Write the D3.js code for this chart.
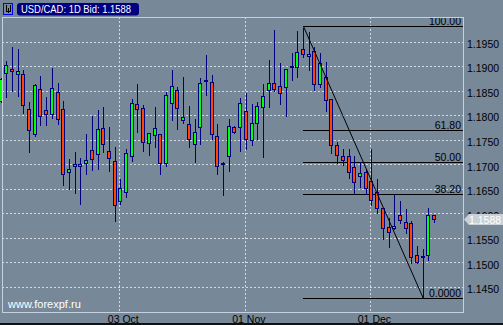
<!DOCTYPE html>
<html>
<head>
<meta charset="utf-8">
<script src="https://cdn.jsdelivr.net/npm/d3@7"></script>
<style>
  html, body { margin: 0; padding: 0; background: #778899; }
  svg { display: block; font-family: 'Liberation Sans', Arial, sans-serif; }
</style>
</head>
<body>
<div class="chart-container"></div>
<script>
// USD/CAD daily candles
const open = [
  1.1829, 1.1885, 1.1894, 1.1884, 1.1883, 1.1812, 1.1761, 1.1853, 1.1810, 1.1802,
  1.1847, 1.1812, 1.1684, 1.1696, 1.1696, 1.1702, 1.1730, 1.1720, 1.1773, 1.1726,
  1.1707, 1.1625, 1.1643, 1.1716, 1.1822, 1.1814, 1.1743, 1.1759, 1.1761, 1.1702,
  1.1824, 1.1851, 1.1790, 1.1781, 1.1742, 1.1775, 1.1871, 1.1867, 1.1757, 1.1703,
  1.1716, 1.1775, 1.1775, 1.1808, 1.1749, 1.1785, 1.1816, 1.1851, 1.1865, 1.1859,
  1.1857, 1.1901, 1.1899, 1.1934, 1.1920, 1.1930, 1.1863, 1.1878, 1.1832, 1.1739,
  1.1716, 1.1716, 1.1694, 1.1677, 1.1684, 1.1665, 1.1643, 1.1610, 1.1573, 1.1570,
  1.1596, 1.1582, 1.1581, 1.1516, 1.1514, 1.1515, 1.1596
];
const high = [
  1.1876, 1.1910, 1.1939, 1.1935, 1.1892, 1.1826, 1.1863, 1.1880, 1.1837, 1.1896,
  1.1865, 1.1829, 1.1711, 1.1725, 1.1713, 1.1762, 1.1799, 1.1810, 1.1817, 1.1776,
  1.1735, 1.1670, 1.1732, 1.1833, 1.1863, 1.1821, 1.1764, 1.1817, 1.1762, 1.1847,
  1.1891, 1.1857, 1.1878, 1.1819, 1.1792, 1.1875, 1.1923, 1.1882, 1.1781, 1.1705,
  1.1792, 1.1777, 1.1834, 1.1845, 1.1822, 1.1826, 1.1863, 1.1912, 1.1973, 1.1906,
  1.1895, 1.1926, 1.1971, 1.1978, 1.1969, 1.1939, 1.1926, 1.1908, 1.1833, 1.1745,
  1.1732, 1.1732, 1.1716, 1.1704, 1.1690, 1.1732, 1.1669, 1.1611, 1.1590, 1.1637,
  1.1625, 1.1608, 1.1585, 1.1534, 1.1528, 1.1610, 1.1597
];
const low = [
  1.1827, 1.1836, 1.1850, 1.1838, 1.1805, 1.1724, 1.1758, 1.1780, 1.1779, 1.1795,
  1.1781, 1.1658, 1.1650, 1.1642, 1.1620, 1.1681, 1.1689, 1.1691, 1.1724, 1.1687,
  1.1585, 1.1619, 1.1634, 1.1707, 1.1766, 1.1726, 1.1719, 1.1736, 1.1681, 1.1697,
  1.1790, 1.1772, 1.1785, 1.1736, 1.1705, 1.1742, 1.1841, 1.1751, 1.1681, 1.1638,
  1.1687, 1.1763, 1.1726, 1.1732, 1.1740, 1.1751, 1.1715, 1.1817, 1.1849, 1.1822,
  1.1799, 1.1872, 1.1878, 1.1919, 1.1892, 1.1851, 1.1858, 1.1809, 1.1722, 1.1702,
  1.1698, 1.1671, 1.1642, 1.1654, 1.1639, 1.1617, 1.1600, 1.1547, 1.1532, 1.1568,
  1.1580, 1.1559, 1.1498, 1.1499, 1.1427, 1.1504, 1.1583
];
const close = [
  1.1873, 1.1902, 1.1889, 1.1889, 1.1820, 1.1769, 1.1861, 1.1798, 1.1802, 1.1855,
  1.1792, 1.1680, 1.1690, 1.1700, 1.1700, 1.1708, 1.1710, 1.1771, 1.1741, 1.1712,
  1.1618, 1.1651, 1.1722, 1.1824, 1.1812, 1.1746, 1.1763, 1.1773, 1.1702, 1.1842,
  1.1859, 1.1814, 1.1796, 1.1751, 1.1765, 1.1865, 1.1871, 1.1761, 1.1696, 1.1703,
  1.1777, 1.1765, 1.1824, 1.1751, 1.1783, 1.1818, 1.1838, 1.1865, 1.1853, 1.1845,
  1.1893, 1.1901, 1.1928, 1.1925, 1.1925, 1.1863, 1.1906, 1.1830, 1.1739, 1.1718,
  1.1708, 1.1684, 1.1663, 1.1682, 1.1651, 1.1627, 1.1610, 1.1570, 1.1563, 1.1574,
  1.1587, 1.1570, 1.1512, 1.1500, 1.1514, 1.1596, 1.1588
];

const priceTicks = [1.1450, 1.1500, 1.1550, 1.1600, 1.1650, 1.1700, 1.1750, 1.1800, 1.1850, 1.1900, 1.1950];
const dateTickIndex = [21, 43, 65];
const dateTickLabels = ['03 Oct', '01 Nov', '01 Dec'];

// fibonacci retracement anchors (bar index, price)
const fibAnchor = [53, 74];
const fibPrice = [1.1981, 1.1427];
const fibLevels = [1, 0.618, 0.5, 0.382, 0];
const fibLabels = ['100.00', '61.80', '50.00', '38.20', '0.0000'];

const lastBid = 1.1588;
const title = 'USD/CAD: 1D Bid: 1.1588';
const watermark = 'www.forexpf.ru';

function drawChart(){
    const svg_width = 503;
    const svg_height = 325;
    const plot = {left: 2, top: 17, right: 463, bottom: 312};

    const bars = open.map((o, i) => ({i: i, o: o, h: high[i], l: low[i], c: close[i]}));

    const svg = d3.select('.chart-container')
                  .append('svg')
                  .attr('width', svg_width).attr('height', svg_height);

    svg.append('rect').attr('width', svg_width).attr('height', svg_height).attr('fill', '#778899');

    const xScale = d3.scaleLinear().domain([0, bars.length - 1]).range([1, 434.7]);
    const yScale = d3.scaleLinear().domain([1.145, 1.195]).range([287, 41.5]);

    svg.append('clipPath').attr('id', 'plot-clip')
       .append('rect')
       .attr('x', 0).attr('y', plot.top)
       .attr('width', plot.right - 0).attr('height', plot.bottom - plot.top);

    const g = svg.append('g').attr('clip-path', 'url(#plot-clip)');

    // dotted grid
    const grid = g.append('g').attr('class', 'grid')
                  .attr('stroke', '#d4dbe2').attr('stroke-width', 1)
                  .attr('stroke-dasharray', '2,2').attr('shape-rendering', 'crispEdges');
    grid.selectAll('.hgrid').data(priceTicks).enter()
        .append('line').attr('class', 'hgrid')
        .attr('x1', plot.left).attr('x2', plot.right)
        .attr('y1', d => Math.round(yScale(d)) + 0.5)
        .attr('y2', d => Math.round(yScale(d)) + 0.5);
    grid.selectAll('.vgrid').data(dateTickIndex).enter()
        .append('line').attr('class', 'vgrid')
        .attr('y1', plot.top).attr('y2', plot.bottom)
        .attr('x1', d => Math.floor(xScale(d)) - 0.5)
        .attr('x2', d => Math.floor(xScale(d)) - 0.5);

    // fibonacci lines
    const fibX0 = xScale(fibAnchor[0]);
    const fibY = lv => yScale(fibPrice[1] + lv * (fibPrice[0] - fibPrice[1]));
    const fib = g.append('g').attr('class', 'fib');
    fib.selectAll('line').data(fibLevels).enter()
       .append('line')
       .attr('x1', fibX0).attr('x2', plot.right)
       .attr('y1', d => Math.round(fibY(d)) + 0.5)
       .attr('y2', d => Math.round(fibY(d)) + 0.5)
       .attr('stroke', '#000').attr('stroke-width', 1)
       .attr('shape-rendering', 'crispEdges');
    fib.selectAll('text').data(fibLevels).enter()
       .append('text')
       .attr('x', plot.right - 2)
       .attr('y', d => Math.round(fibY(d)) - 1.5)
       .attr('text-anchor', 'end')
       .style('font-size', '10.5px').style('fill', '#000')
       .text((d, i) => fibLabels[i]);

    // candles
    const candle = g.selectAll('.candle').data(bars).enter()
                    .append('g').attr('class', 'candle');
    const col = d => Math.floor(xScale(d.i));
    candle.append('line')
          .attr('x1', d => col(d) + 0.5).attr('x2', d => col(d) + 0.5)
          .attr('y1', d => Math.round(yScale(d.h)))
          .attr('y2', d => Math.round(yScale(d.l)) + 1)
          .attr('stroke', '#000080').attr('stroke-width', 1)
          .attr('shape-rendering', 'crispEdges');
    candle.append('rect')
          .attr('x', d => col(d) - 1.5)
          .attr('width', 3)
          .attr('y', d => Math.round(yScale(Math.max(d.o, d.c))) + 0.5)
          .attr('height', d => Math.max(1, Math.round(yScale(Math.min(d.o, d.c))) - Math.round(yScale(Math.max(d.o, d.c)))))
          .attr('fill', d => d.c >= d.o ? '#00ff00' : '#ff4500')
          .attr('stroke', '#000080').attr('stroke-width', 1)
          .attr('shape-rendering', 'crispEdges');

    // trend line of the retracement
    g.append('line')
     .attr('x1', fibX0).attr('y1', yScale(fibPrice[0]))
     .attr('x2', xScale(fibAnchor[1])).attr('y2', yScale(fibPrice[1]))
     .attr('stroke', '#000').attr('stroke-width', 1);

    // frame
    svg.append('rect')
       .attr('x', plot.left + 0.5).attr('y', plot.top + 0.5)
       .attr('width', plot.right - plot.left).attr('height', plot.bottom - plot.top)
       .attr('fill', 'none').attr('stroke', '#c4d2e0').attr('stroke-width', 1)
       .attr('shape-rendering', 'crispEdges');

    // right price axis
    const yAxis = d3.axisRight(yScale)
                    .tickValues(priceTicks)
                    .tickFormat(d3.format('.4f'))
                    .tickSize(0).tickPadding(3);
    const yAxisDraw = svg.append('g').attr('class', 'y axis')
                         .attr('transform', `translate(${plot.right + 1},0)`)
                         .call(yAxis);
    yAxisDraw.select('.domain').remove();
    yAxisDraw.selectAll('text')
             .attr('dy', '0.55em')
             .style('font-size', '10.5px').style('fill', '#000')
             .style('font-family', "'Liberation Sans', Arial, sans-serif");

    // bottom date labels
    svg.append('g').attr('class', 'x labels')
       .selectAll('text').data(dateTickIndex).enter()
       .append('text')
       .attr('x', d => xScale(d) + 2.5)
       .attr('y', 322.5)
       .attr('text-anchor', 'middle')
       .style('font-size', '10.5px').style('fill', '#000')
       .text((d, i) => dateTickLabels[i]);

    // current bid marker, sits over the 1.1600 label as in the original
    const by = Math.round(yScale(lastBid)) + 0.5;
    svg.append('path')
       .attr('d', `M${plot.right + 1},${by} L${plot.right + 6},${by - 5.5} L${svg_width},${by - 5.5} L${svg_width},${by + 5.5} L${plot.right + 6},${by + 5.5} Z`)
       .attr('fill', '#c9d0d7');
    svg.append('text')
       .attr('x', plot.right + 6).attr('y', by + 4)
       .style('font-size', '10.5px').style('fill', '#fff')
       .text(d3.format('.4f')(lastBid));

    // watermark
    svg.append('text')
       .attr('x', 8).attr('y', 308)
       .style('font-size', '11px').style('fill', '#fff')
       .text(watermark);

    // header: icon + title box
    svg.append('rect')
       .attr('x', 3.5).attr('y', 3.5).attr('width', 9).attr('height', 11)
       .attr('fill', 'none').attr('stroke', '#0000ff').attr('stroke-width', 1)
       .attr('shape-rendering', 'crispEdges');
    svg.append('path')
       .attr('d', 'M6.5,5 V11.5 H10.5 V5 M8.5,8 V13')
       .attr('fill', 'none').attr('stroke', '#000').attr('stroke-width', 1)
       .attr('shape-rendering', 'crispEdges');
    svg.append('rect')
       .attr('x', 17).attr('y', 3).attr('width', 122).attr('height', 12.5).attr('rx', 3)
       .attr('fill', '#000080');
    svg.append('text')
       .attr('x', 21).attr('y', 13)
       .attr('textLength', 110).attr('lengthAdjust', 'spacingAndGlyphs')
       .style('font-size', '11px').style('fill', '#fff')
       .text(title);

    // dark bottom edge
    svg.append('rect').attr('x', 0).attr('y', 323).attr('width', svg_width).attr('height', 2).attr('fill', '#111');
}

drawChart();
</script>
</body>
</html>
